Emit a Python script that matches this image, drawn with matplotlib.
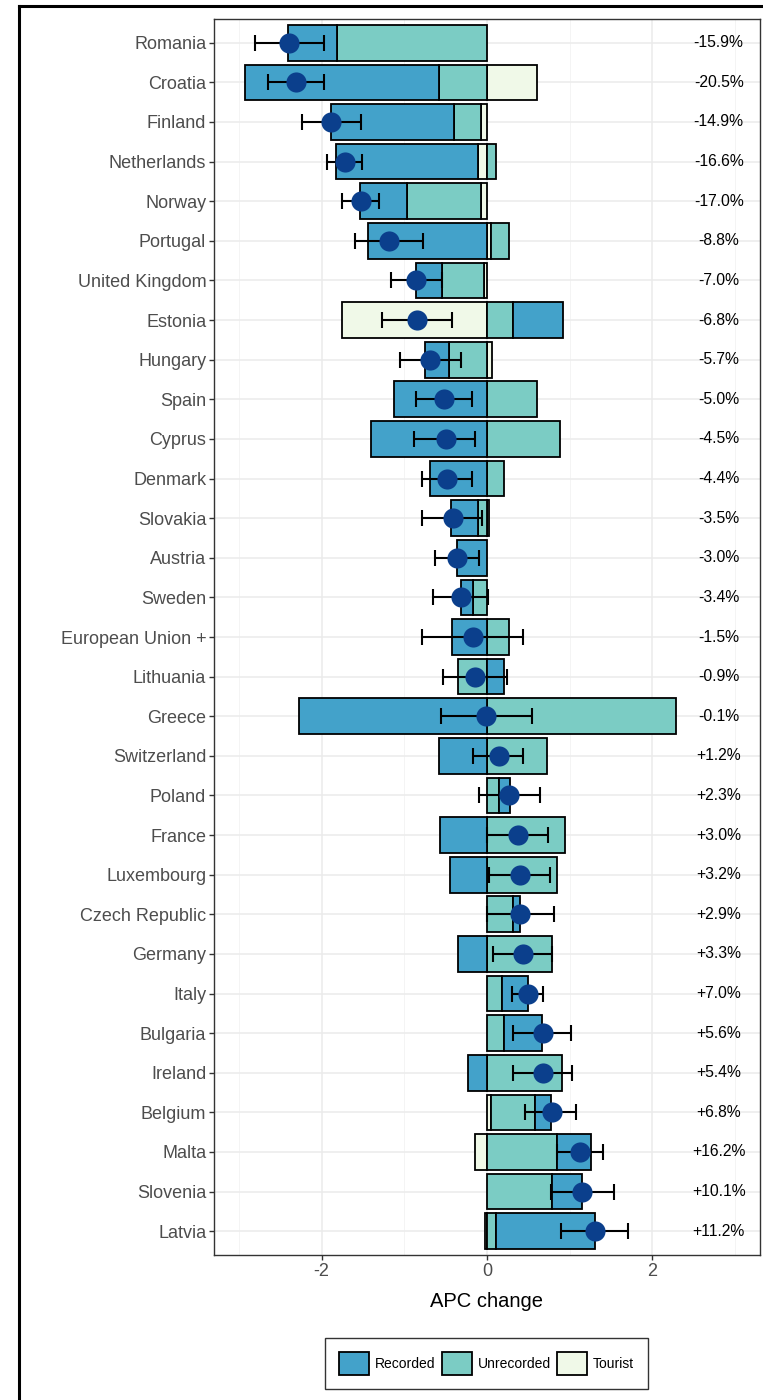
import numpy as np
import matplotlib
matplotlib.use("Agg")
import matplotlib.pyplot as plt
from matplotlib.patches import Patch
from matplotlib.lines import Line2D

plt.rcParams['font.family'] = ['Liberation Sans', 'DejaVu Sans']

countries = ["Romania", "Croatia", "Finland", "Netherlands", "Norway", "Portugal",
             "United Kingdom", "Estonia", "Hungary", "Spain", "Cyprus", "Denmark",
             "Slovakia", "Austria", "Sweden", "European Union +", "Lithuania", "Greece",
             "Switzerland", "Poland", "France", "Luxembourg", "Czech Republic", "Germany",
             "Italy", "Bulgaria", "Ireland", "Belgium", "Malta", "Slovenia", "Latvia"]

# components of the APC change (litres per capita)
recorded = [-0.59, -2.35, -1.48, -1.725, -0.56, -1.44, -0.31, 0.60, -0.29, -1.13, -1.40,
            -0.69, -0.32, -0.36, -0.15, -0.42, 0.21, -2.27, -0.58, 0.13, -0.57, -0.45,
            0.08, -0.35, 0.32, 0.47, -0.23, 0.185, 0.41, 0.36, 1.20]
unrecorded = [-1.81, -0.58, -0.33, 0.113, -0.90, 0.21, -0.51, 0.315, -0.46, 0.60, 0.88,
              0.21, -0.11, 0.0, -0.17, 0.26, -0.35, 2.28, 0.72, 0.15, 0.94, 0.85,
              0.32, 0.78, 0.18, 0.20, 0.91, 0.54, 0.85, 0.79, 0.11]
tourist = [0.0, 0.61, -0.07, -0.105, -0.07, 0.05, -0.04, -1.75, 0.065, 0.0, 0.0,
           0.0, 0.02, 0.0, 0.0, 0.0, 0.0, 0.0, 0.0, 0.0, 0.0, 0.0,
           0.0, 0.0, 0.0, 0.0, 0.0, 0.045, -0.14, 0.0, -0.02]

# total APC change with confidence interval
apc = [-2.39, -2.31, -1.885, -1.72, -1.525, -1.18, -0.86, -0.85, -0.69, -0.52, -0.50,
       -0.48, -0.41, -0.36, -0.31, -0.17, -0.14, -0.01, 0.14, 0.27, 0.37, 0.40,
       0.40, 0.44, 0.50, 0.68, 0.68, 0.78, 1.12, 1.15, 1.30]
apc_lo = [-2.81, -2.65, -2.24, -1.93, -1.755, -1.60, -1.16, -1.27, -1.05, -0.86, -0.88,
          -0.79, -0.78, -0.63, -0.65, -0.79, -0.53, -0.56, -0.17, -0.10, 0.0, 0.03,
          0.0, 0.07, 0.30, 0.31, 0.31, 0.46, 0.85, 0.77, 0.89]
apc_hi = [-1.97, -1.97, -1.52, -1.51, -1.31, -0.77, -0.55, -0.42, -0.32, -0.18, -0.14,
          -0.18, -0.06, -0.10, 0.01, 0.44, 0.24, 0.54, 0.44, 0.64, 0.74, 0.76,
          0.81, 0.78, 0.68, 1.02, 1.03, 1.08, 1.40, 1.54, 1.71]

pct_labels = ["-15.9%", "-20.5%", "-14.9%", "-16.6%", "-17.0%", "-8.8%", "-7.0%", "-6.8%",
              "-5.7%", "-5.0%", "-4.5%", "-4.4%", "-3.5%", "-3.0%", "-3.4%", "-1.5%",
              "-0.9%", "-0.1%", "+1.2%", "+2.3%", "+3.0%", "+3.2%", "+2.9%", "+3.3%",
              "+7.0%", "+5.6%", "+5.4%", "+6.8%", "+16.2%", "+10.1%", "+11.2%"]

fig = plt.figure(figsize=(7.63, 14), dpi=100)
ax = fig.add_axes([214 / 763, 1 - 1255 / 1400, (760 - 214) / 763, (1255 - 19) / 1400])

n = len(countries)
ypos = np.arange(n, 0, -1)

# stack from zero outward: tourist, unrecorded, recorded (pos and neg separately)
components = [("Tourist", tourist, "#F0F9E8"),
              ("Unrecorded", unrecorded, "#7BCCC4"),
              ("Recorded", recorded, "#43A2CA")]
pos_base = np.zeros(n)
neg_base = np.zeros(n)
for name, vals, col in components:
    vals = np.asarray(vals, dtype=float)
    left = np.where(vals >= 0, pos_base, neg_base)
    keep = vals != 0
    ax.barh(ypos[keep], vals[keep], left=left[keep], height=0.9, color=col,
            edgecolor="black", linewidth=1.3, zorder=2)
    pos_base += np.clip(vals, 0, None)
    neg_base += np.clip(vals, None, 0)

apc = np.asarray(apc)
xerr = [apc - np.asarray(apc_lo), np.asarray(apc_hi) - apc]
ax.errorbar(apc, ypos, xerr=xerr, fmt="none", ecolor="black", elinewidth=1.5,
            capsize=6, capthick=1.5, zorder=3)
ax.plot(apc, ypos, "o", color="#0B3F8C", markersize=14.5, markeredgewidth=0, zorder=4)

for y, lab in zip(ypos, pct_labels):
    ax.text(2.8, y, lab, ha="center", va="center", fontsize=11.3, color="black", zorder=5)

ax.set_xlim(-3.3, 3.3)
ax.set_ylim(0.4, n + 0.6)
ax.set_xticks([-2, 0, 2])
ax.set_xticklabels(["-2", "0", "2"])
ax.set_xticks([-3, -1, 1, 3], minor=True)
ax.set_yticks(ypos)
ax.set_yticklabels(countries)

ax.set_axisbelow(True)
ax.grid(True, which="major", color="#EBEBEB", linewidth=1.1, zorder=0)
ax.xaxis.grid(True, which="minor", color="#F2F2F2", linewidth=0.6, zorder=0)
for sp in ax.spines.values():
    sp.set_color("#333333")
    sp.set_linewidth(1.0)
ax.tick_params(which="major", length=3.6, width=1, color="#333333",
               labelcolor="#4D4D4D", labelsize=13, pad=2)
ax.tick_params(which="minor", length=0)
ax.set_xlabel("APC change", fontsize=14.5, color="black", labelpad=9)

handles = [Patch(facecolor=c, edgecolor="black", linewidth=1.3, label=nm)
           for nm, c in [("Recorded", "#43A2CA"), ("Unrecorded", "#7BCCC4"), ("Tourist", "#F0F9E8")]]
leg = fig.legend(handles=handles, loc="center", bbox_to_anchor=(486.5 / 763, 1 - 1363.5 / 1400),
                 ncol=3, frameon=True, fancybox=False, edgecolor="black", fontsize=10,
                 handlelength=2.16, handleheight=2.16, handletextpad=0.43,
                 columnspacing=0.45, borderpad=1.0)
leg.get_frame().set_linewidth(1.0)

# outer frame around the figure
fx = 19 / 763
fy = 1 - 6 / 1400
fig.add_artist(Line2D([fx, fx], [0, fy], transform=fig.transFigure, color="black", lw=2.2))
fig.add_artist(Line2D([fx, 1], [fy, fy], transform=fig.transFigure, color="black", lw=2.2))

fig.savefig("out.png", dpi=100)
